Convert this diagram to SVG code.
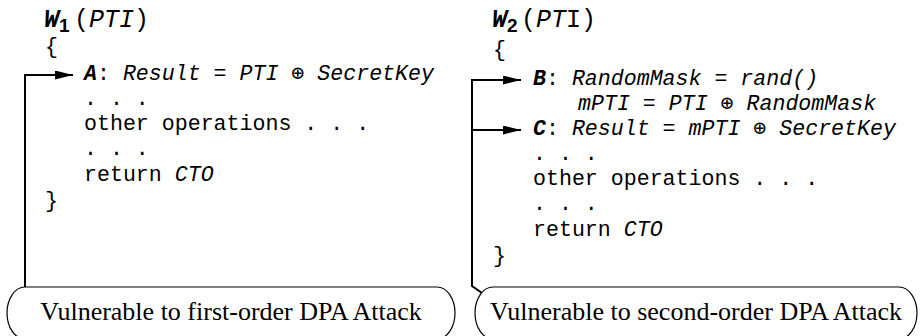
<svg xmlns="http://www.w3.org/2000/svg" width="921" height="336" viewBox="0 0 921 336">
<defs>
<style>
.code{font-family:"Liberation Mono","DejaVu Sans Mono",monospace;font-size:21.6px;fill:#000}
.title{font-size:25px}
.it{font-style:italic}
.bi{font-weight:bold;font-style:italic}
.sub{font-family:"Liberation Sans","DejaVu Sans",sans-serif;font-weight:bold;font-size:19px;font-style:normal}
.lbl{font-family:"Liberation Serif","Times New Roman",serif;font-size:26px;text-anchor:middle;fill:#000}
.conn{fill:none;stroke:#000;stroke-width:2}
.shape{fill:#fff;stroke:#000;stroke-width:1.2}
</style>
<marker id="ah" viewBox="0 0 20 10" refX="20" refY="5" markerWidth="20" markerHeight="9" markerUnits="userSpaceOnUse" orient="auto">
<path d="M0,0 L20,5 L0,10 Z" fill="#000"/>
</marker>
</defs>
<rect width="921" height="336" fill="#fff"/>

<g id="connectors">
<path class="conn" d="M25,287 V75 H73" marker-end="url(#ah)"/>
<path class="conn" d="M482,293 L472,286 V80 H521" marker-end="url(#ah)"/>
<path class="conn" d="M472,130 H521" marker-end="url(#ah)"/>
</g>

<g id="w1-code" class="code">
<text x="44" y="27" class="title"><tspan class="bi">W</tspan><tspan class="sub" dy="5">1</tspan><tspan x="74" dy="-5">(</tspan><tspan class="it">PTI</tspan>)</text>
<text x="45" y="53">{</text>
<text x="84" y="80" xml:space="preserve"><tspan class="bi">A</tspan>: <tspan class="it">Result = PTI ⊕ SecretKey</tspan></text>
<text x="84" y="105" xml:space="preserve">. . .</text>
<text x="84" y="130" xml:space="preserve">other operations . . .</text>
<text x="84" y="155" xml:space="preserve">. . .</text>
<text x="84" y="181" xml:space="preserve">return <tspan class="it">CTO</tspan></text>
<text x="45" y="207">}</text>
</g>

<g id="w2-code" class="code">
<text x="492" y="27" class="title"><tspan class="bi">W</tspan><tspan class="sub" dy="5">2</tspan><tspan x="521" dy="-5">(</tspan><tspan class="it">PT</tspan>I)</text>
<text x="493" y="56">{</text>
<text x="533" y="85" xml:space="preserve"><tspan class="bi">B</tspan>: <tspan class="it">RandomMask = rand()</tspan></text>
<text x="578" y="110" xml:space="preserve" class="it">mPTI = PTI ⊕ RandomMask</text>
<text x="533" y="135" xml:space="preserve"><tspan class="bi">C</tspan>: <tspan class="it">Result = mPTI ⊕ SecretKey</tspan></text>
<text x="533" y="160" xml:space="preserve">. . .</text>
<text x="533" y="185" xml:space="preserve">other operations . . .</text>
<text x="533" y="210" xml:space="preserve">. . .</text>
<text x="533" y="236" xml:space="preserve">return <tspan class="it">CTO</tspan></text>
<text x="493" y="262">}</text>
</g>

<g id="label-first">
<path class="shape" d="M25,287 H437 A18,26 0 0 1 437,339 H25 A18,26 0 0 1 25,287 Z"/>
<text class="lbl" x="231" y="320">Vulnerable to first-order DPA Attack</text>
</g>

<g id="label-second">
<path class="shape" d="M493,287 H899 A18,26 0 0 1 899,339 H493 A18,26 0 0 1 493,287 Z"/>
<text class="lbl" x="696" y="320">Vulnerable to second-order DPA Attack</text>
</g>
</svg>
